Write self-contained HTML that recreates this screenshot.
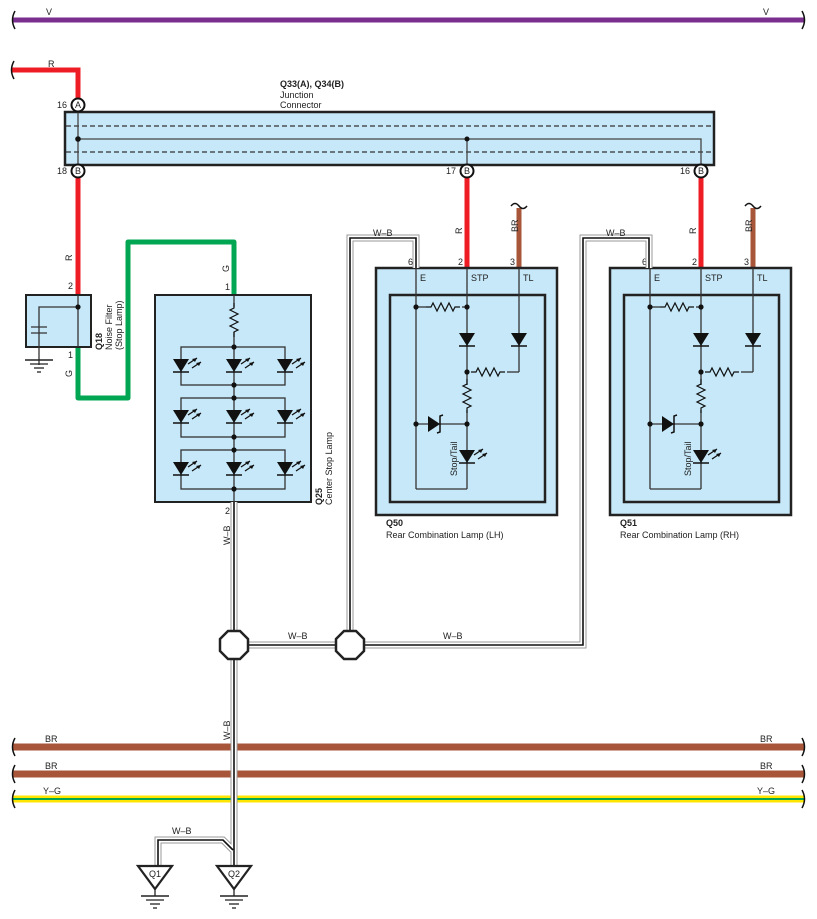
<!DOCTYPE html>
<html><head><meta charset="utf-8"><style>
html,body{margin:0;padding:0;background:#fff}
svg{display:block}
text{font-family:"Liberation Sans",sans-serif;font-size:9px;fill:#222}
</style></head><body>
<svg width="817" height="919" viewBox="0 0 817 919" xmlns="http://www.w3.org/2000/svg">
<defs>
<g id="dio"><polygon points="-8,-7 8,-7 0,6" fill="#111"/><line x1="-8" y1="6" x2="8" y2="6" stroke="#111" stroke-width="1.5"/></g>
<g id="led"><use href="#dio"/><path d="M7,-2 l9,-6 M11,2 l9,-6" stroke="#111" stroke-width="1.3" fill="none"/><polygon points="16,-8 11,-7 14,-4" fill="#111"/><polygon points="20,-4 15,-3 18,0" fill="#111"/></g>
<path id="rh" d="M0,0 h5 l2,-4 l4,8 l4,-8 l4,8 l4,-8 l4,8 l2,-4 h5" fill="none" stroke="#111" stroke-width="1.2"/>
<path id="rv" d="M0,0 v5 l-4,2 l8,4 l-8,4 l8,4 l-8,4 l8,4 l-4,2 v5" fill="none" stroke="#111" stroke-width="1.2"/>
<g id="gnd"><line x1="-14" y1="0" x2="14" y2="0" stroke="#222" stroke-width="1.5"/><line x1="-9" y1="4" x2="9" y2="4" stroke="#222" stroke-width="1.3"/><line x1="-5" y1="8" x2="5" y2="8" stroke="#222" stroke-width="1.3"/><line x1="-2" y1="12" x2="2" y2="12" stroke="#222" stroke-width="1.3"/></g>
<g id="lamp">
<rect x="376" y="268" width="181" height="247" fill="#c6e8f8" stroke="#222" stroke-width="2.5"/>
<rect x="390" y="295" width="155" height="207" fill="#c6e8f8" stroke="#222" stroke-width="2.5"/>
<g stroke="#333" stroke-width="1.3" fill="none">
<line x1="416" y1="268" x2="416" y2="489"/><line x1="416" y1="489" x2="467" y2="489"/>
<line x1="467" y1="268" x2="467" y2="385"/><line x1="467" y1="410" x2="467" y2="489"/>
<line x1="519" y1="268" x2="519" y2="372"/><line x1="507" y1="372" x2="519" y2="372"/>
<line x1="416" y1="424" x2="467" y2="424"/>
<line x1="416" y1="307" x2="426" y2="307"/><line x1="462" y1="307" x2="467" y2="307"/>
</g>
<use href="#rh" x="426" y="307"/>
<use href="#rh" x="467" y="372" transform="translate(4,0)"/>
<use href="#rv" x="467" y="379"/>
<use href="#dio" x="467" y="340"/><use href="#dio" x="519" y="340"/>
<use href="#led" x="467" y="457"/>
<g transform="translate(434,424)"><polygon points="-6,-8 -6,8 6,0" fill="#111"/><path d="M9,-9 l-3,1 v16 l-3,1" stroke="#111" stroke-width="1.5" fill="none"/></g>
<g fill="#111"><circle cx="416" cy="307" r="2.6"/><circle cx="467" cy="307" r="2.6"/><circle cx="467" cy="372" r="2.6"/><circle cx="416" cy="424" r="2.6"/><circle cx="467" cy="424" r="2.6"/></g>
<text x="420" y="281">E</text><text x="471" y="281">STP</text><text x="523" y="281">TL</text>
<text x="408" y="265">6</text><text x="458" y="265">2</text><text x="510" y="265">3</text>
<text transform="translate(457,476) rotate(-90)" font-size="9">Stop/Tail</text>
<text transform="translate(462,234) rotate(-90)">R</text>
<text transform="translate(518,232) rotate(-90)">BR</text>
<path d="M511,206 q4,-5 8,0 t8,0" fill="none" stroke="#111" stroke-width="1.5"/>
</g>
</defs>

<line x1="12" y1="20" x2="805" y2="20" stroke="#7a2e8e" stroke-width="5"/>
<path d="M15,11 q-5,9 0,18 M802,11 q5,9 0,18" stroke="#111" stroke-width="1.5" fill="none"/>
<text x="46" y="15">V</text><text x="763" y="15">V</text>

<path d="M12,70 H78 V98" stroke="#ee1c25" stroke-width="5" fill="none"/>
<path d="M14,61 q-5,9 0,18" stroke="#111" stroke-width="1.5" fill="none"/>
<text x="48" y="67">R</text>

<rect x="65" y="112" width="649" height="53" fill="#c6e8f8" stroke="#222" stroke-width="2.5"/>
<line x1="66" y1="126" x2="713" y2="126" stroke="#333" stroke-width="1.2" stroke-dasharray="5,3"/>
<line x1="66" y1="152" x2="713" y2="152" stroke="#333" stroke-width="1.2" stroke-dasharray="5,3"/>
<path d="M78,112 V171 M78,139 H701 V171 M467,139 V171" stroke="#444" stroke-width="1.3" fill="none"/>
<circle cx="78" cy="139" r="2.8" fill="#111"/><circle cx="467" cy="139" r="2.5" fill="#111"/>
<text x="280" y="87" font-weight="bold">Q33(A), Q34(B)</text>
<text x="280" y="98">Junction</text><text x="280" y="108">Connector</text>

<line x1="78" y1="178" x2="78" y2="295" stroke="#ee1c25" stroke-width="5"/>
<line x1="467" y1="178" x2="467" y2="268" stroke="#ee1c25" stroke-width="5"/>
<line x1="701" y1="178" x2="701" y2="268" stroke="#ee1c25" stroke-width="5"/>
<line x1="519" y1="208" x2="519" y2="268" stroke="#a8563a" stroke-width="5"/>
<line x1="753" y1="208" x2="753" y2="268" stroke="#a8563a" stroke-width="5"/>

<g fill="#fff" stroke="#111" stroke-width="2">
<circle cx="78" cy="105" r="6.5"/><circle cx="78" cy="171" r="6.5"/><circle cx="467" cy="171" r="6.5"/><circle cx="701" cy="171" r="6.5"/></g>
<g font-size="8" text-anchor="middle"><text x="78" y="108">A</text><text x="78" y="174">B</text><text x="467" y="174">B</text><text x="701" y="174">B</text></g>
<text x="57" y="108">16</text><text x="57" y="174">18</text><text x="446" y="174">17</text><text x="680" y="174">16</text>

<path d="M78,347 V398 H128 V242 H234 V295" stroke="#00a651" stroke-width="5" fill="none" stroke-linejoin="round"/>
<text transform="translate(72,261) rotate(-90)">R</text>
<text x="68" y="289">2</text><text x="68" y="358">1</text>
<text transform="translate(72,377) rotate(-90)">G</text>
<text transform="translate(229,272) rotate(-90)">G</text><text x="225" y="290">1</text>

<rect x="26" y="295" width="65" height="52" fill="#c6e8f8" stroke="#222" stroke-width="2"/>
<path d="M78,295 V347 M78,307 H39 V365 M31,327 H47 M31,333 H47" stroke="#333" stroke-width="1.3" fill="none"/>
<circle cx="78" cy="307" r="2.6" fill="#111"/>
<use href="#gnd" x="39" y="360"/>
<text transform="translate(102,350) rotate(-90)" font-weight="bold">Q18</text>
<text transform="translate(112,350) rotate(-90)">Noise Filter</text>
<text transform="translate(122,350) rotate(-90)">(Stop Lamp)</text>

<rect x="155" y="295" width="156" height="207" fill="#c6e8f8" stroke="#222" stroke-width="2"/>
<g stroke="#333" stroke-width="1.3" fill="none">
<line x1="234" y1="295" x2="234" y2="307"/><line x1="234" y1="332" x2="234" y2="502"/>
<rect x="181" y="347" width="104" height="38"/><rect x="181" y="398" width="104" height="39"/><rect x="181" y="450" width="104" height="39"/>
</g>
<use href="#rv" x="234" y="303"/>
<g fill="#111">
<circle cx="234" cy="347" r="2.6"/><circle cx="234" cy="385" r="2.6"/><circle cx="234" cy="398" r="2.6"/><circle cx="234" cy="437" r="2.6"/><circle cx="234" cy="450" r="2.6"/><circle cx="234" cy="489" r="2.6"/></g>
<use href="#led" x="181" y="366"/><use href="#led" x="234" y="366"/><use href="#led" x="285" y="366"/>
<use href="#led" x="181" y="417"/><use href="#led" x="234" y="417"/><use href="#led" x="285" y="417"/>
<use href="#led" x="181" y="469"/><use href="#led" x="234" y="469"/><use href="#led" x="285" y="469"/>
<text x="225" y="514">2</text>
<text transform="translate(322,505) rotate(-90)" font-weight="bold">Q25</text>
<text transform="translate(332,505) rotate(-90)">Center Stop Lamp</text>

<use href="#lamp"/>
<use href="#lamp" x="234"/>
<text x="386" y="526" font-weight="bold">Q50</text><text x="386" y="538">Rear Combination Lamp (LH)</text>
<text x="620" y="526" font-weight="bold">Q51</text><text x="620" y="538">Rear Combination Lamp (RH)</text>

<line x1="12" y1="747" x2="805" y2="747" stroke="#a8563a" stroke-width="7"/>
<line x1="12" y1="774" x2="805" y2="774" stroke="#a8563a" stroke-width="7"/>
<line x1="12" y1="799" x2="805" y2="799" stroke="#ffe600" stroke-width="7"/>
<line x1="12" y1="799" x2="805" y2="799" stroke="#00a651" stroke-width="2"/>
<path d="M15,738 q-5,9 0,18 M802,738 q5,9 0,18 M15,765 q-5,9 0,18 M802,765 q5,9 0,18 M15,790 q-5,9 0,18 M802,790 q5,9 0,18" stroke="#111" stroke-width="1.5" fill="none"/>
<text x="45" y="742">BR</text><text x="760" y="742">BR</text>
<text x="45" y="769">BR</text><text x="760" y="769">BR</text>
<text x="43" y="794">Y–G</text><text x="757" y="794">Y–G</text>

<g fill="none">
<path id="wb" d="M234,502 V866 M234,645 H350 M350,645 V238 H416 V268 M350,645 H583 V238 H649 V268 M233,850 L223,840 H158 V866"/>
</g>
<use href="#wb" stroke="#999" stroke-width="7" fill="none"/>
<use href="#wb" stroke="#fff" stroke-width="5" fill="none"/>
<use href="#wb" stroke="#111" stroke-width="1.6" fill="none"/>
<text x="373" y="236">W–B</text><text x="606" y="236">W–B</text>
<text transform="translate(230,545) rotate(-90)">W–B</text>
<text transform="translate(230,740) rotate(-90)">W–B</text>
<text x="288" y="639">W–B</text><text x="443" y="639">W–B</text>
<text x="172" y="834">W–B</text>

<g fill="#fff" stroke="#222" stroke-width="2.5">
<polygon points="228,631 240,631 248,639 248,651 240,659 228,659 220,651 220,639"/>
<polygon points="344,631 356,631 364,639 364,651 356,659 344,659 336,651 336,639"/>
</g>

<g fill="#fff" stroke="#222" stroke-width="2.2">
<polygon points="138,866 172,866 155,889"/><polygon points="217,866 251,866 234,889"/></g>
<text x="155" y="877" text-anchor="middle">Q1</text><text x="234" y="877" text-anchor="middle">Q2</text>
<line x1="155" y1="889" x2="155" y2="896" stroke="#222" stroke-width="1.3"/>
<line x1="234" y1="889" x2="234" y2="896" stroke="#222" stroke-width="1.3"/>
<use href="#gnd" x="155" y="896"/><use href="#gnd" x="234" y="896"/>
</svg>
</body></html>
